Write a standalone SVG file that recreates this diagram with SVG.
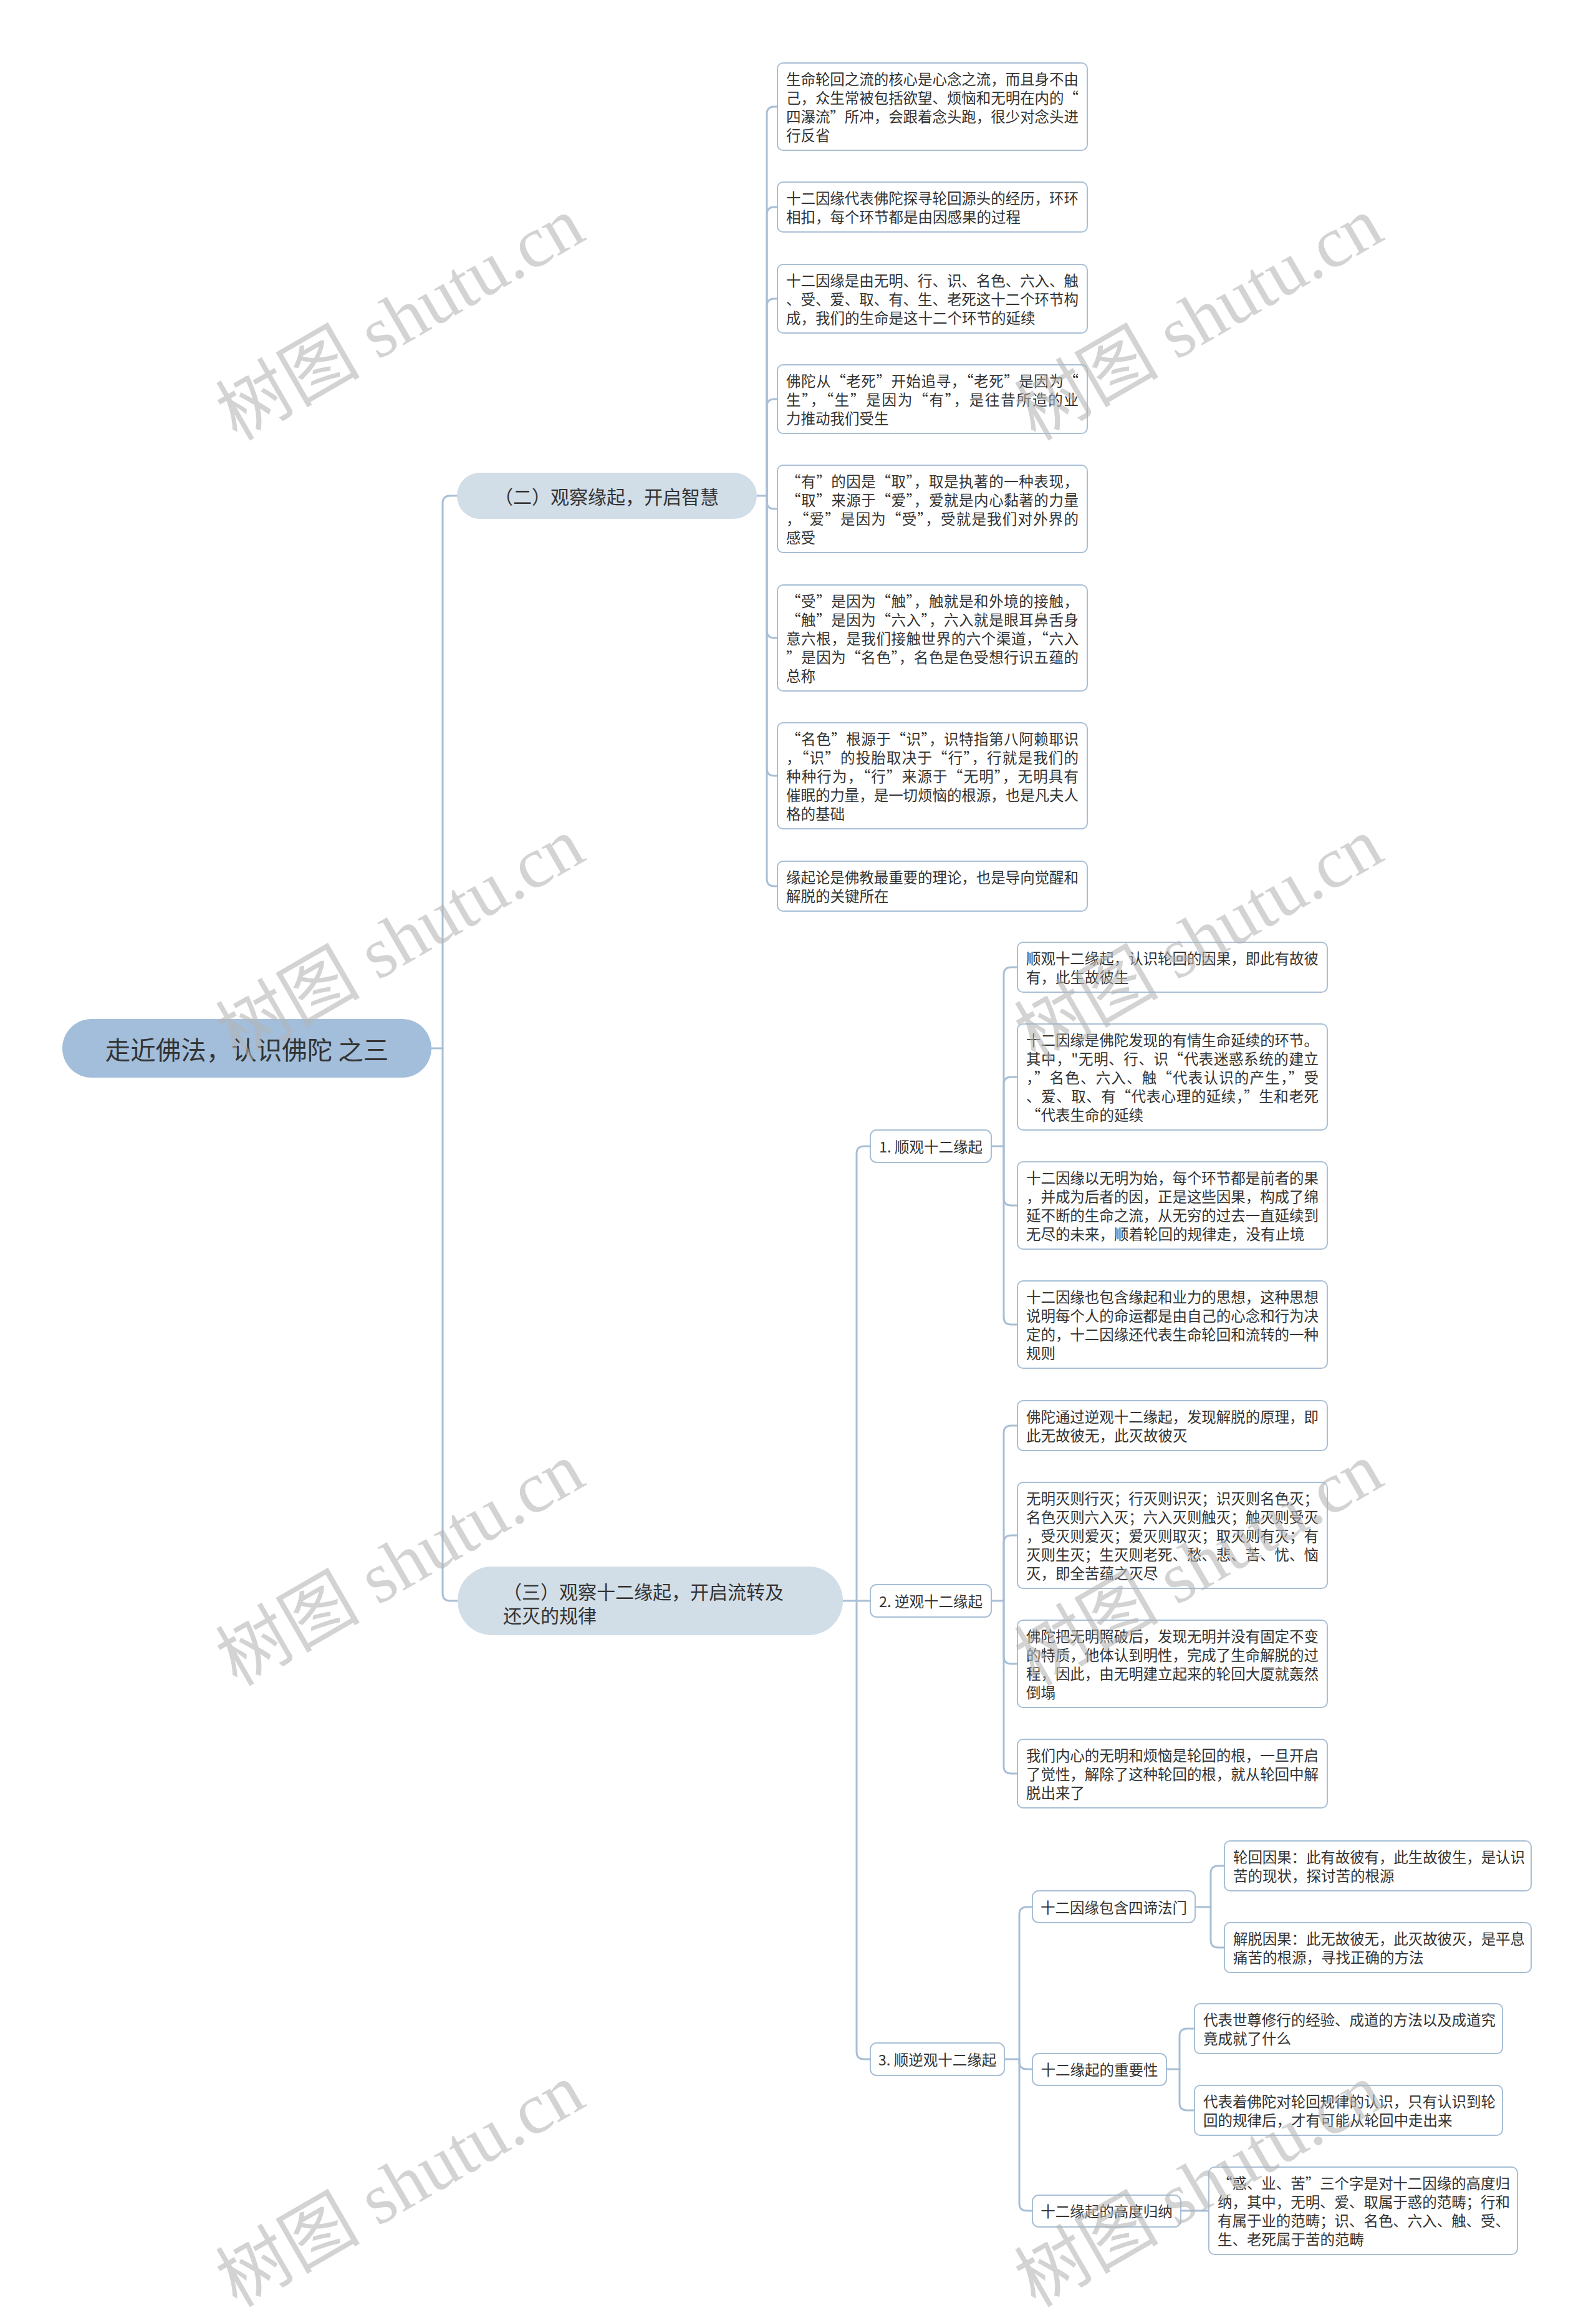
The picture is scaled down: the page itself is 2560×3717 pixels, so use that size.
<svg xmlns="http://www.w3.org/2000/svg" width="2560" height="3717" viewBox="0 0 2560 3717">
<style>
.bg{fill:#ffffff}
.conn path{fill:none;stroke:#a8bfd5;stroke-width:3;stroke-linecap:round}
.leaf rect,.mid rect{fill:#ffffff;stroke:#a8bfd5;stroke-width:2}
.root rect{fill:#a2bedb}
.br rect{fill:#d1dde7}
text{font-family:"Noto Sans CJK SC","Noto Sans",sans-serif;fill:#333333;dominant-baseline:central}
.t{font-size:23.5px}
.rt{font-size:40.5px}
.bt{font-size:30px}
.wm text{font-family:"Liberation Serif","Noto Sans CJK SC",serif;font-size:116px;fill:#b4b4b4;fill-opacity:0.58;dominant-baseline:auto}
</style>
<rect class="bg" x="0" y="0" width="2560" height="3717"/>

<g class="conn" id="connectors">
<path d="M692,1681 H710"/>
<path d="M710,1681 V807 Q710,795 722,795 H733"/>
<path d="M710,1681 V2555 Q710,2567 722,2567 H734"/>
<path d="M1214,795 H1230"/>
<path d="M1230,795 V183 Q1230,171 1242,171 H1247"/>
<path d="M1230,795 V344 Q1230,332 1242,332 H1247"/>
<path d="M1230,795 V491 Q1230,479 1242,479 H1247"/>
<path d="M1230,795 V652 Q1230,640 1242,640 H1247"/>
<path d="M1230,795 V804 Q1230,816 1242,816 H1247"/>
<path d="M1230,795 V1011 Q1230,1023 1242,1023 H1247"/>
<path d="M1230,795 V1232 Q1230,1244 1242,1244 H1247"/>
<path d="M1230,795 V1409 Q1230,1421 1242,1421 H1247"/>
<path d="M1352,2567 H1396"/>
<path d="M1374,2567 V1850 Q1374,1838 1386,1838 H1396"/>
<path d="M1374,2567 V3290 Q1374,3302 1386,3302 H1396"/>
<path d="M1590,1838 H1610"/>
<path d="M1610,1838 V1563 Q1610,1551 1622,1551 H1632"/>
<path d="M1610,1838 V1739 Q1610,1727 1622,1727 H1632"/>
<path d="M1610,1838 V1921 Q1610,1933 1622,1933 H1632"/>
<path d="M1610,1838 V2112 Q1610,2124 1622,2124 H1632"/>
<path d="M1590,2567 H1610"/>
<path d="M1610,2567 V2298 Q1610,2286 1622,2286 H1632"/>
<path d="M1610,2567 V2474 Q1610,2462 1622,2462 H1632"/>
<path d="M1610,2567 V2656 Q1610,2668 1622,2668 H1632"/>
<path d="M1610,2567 V2832 Q1610,2844 1622,2844 H1632"/>
<path d="M1611,3302 H1635"/>
<path d="M1635,3302 V3070 Q1635,3058 1647,3058 H1656"/>
<path d="M1635,3302 V3306 Q1635,3318 1647,3318 H1656"/>
<path d="M1635,3302 V3533 Q1635,3545 1647,3545 H1656"/>
<path d="M1917,3058 H1942"/>
<path d="M1942,3058 V3004 Q1942,2992 1954,2992 H1964"/>
<path d="M1942,3058 V3111 Q1942,3123 1954,3123 H1964"/>
<path d="M1871,3318 H1892"/>
<path d="M1892,3318 V3265 Q1892,3253 1904,3253 H1916"/>
<path d="M1892,3318 V3372 Q1892,3384 1904,3384 H1916"/>
<path d="M1894,3545 H1939"/>
</g>

<g class="root" id="root">
<rect x="100" y="1634" width="592" height="94" rx="47"/>
<text class="rt" x="396" y="1681" text-anchor="middle">走近佛法，认识佛陀 之三</text>
</g>

<g class="br" id="branch-2">
<rect x="733" y="758" width="481" height="74" rx="37"/>
<text class="bt" x="973" y="795" text-anchor="middle">（二）观察缘起，开启智慧</text>
</g>

<g class="br" id="branch-3">
<rect x="734" y="2512" width="618" height="110" rx="55"/>
<text class="bt" x="807" y="2551">（三）观察十二缘起，开启流转及</text>
<text class="bt" x="807" y="2589">还灭的规律</text>
</g>

<g class="leaf" id="b2-leaf1">
<rect x="1247" y="101" width="497" height="140" rx="9"/>
<text class="t" x="1261" y="126" textLength="469" lengthAdjust="spacing">生命轮回之流的核心是心念之流，而且身不由</text>
<text class="t" x="1261" y="156" textLength="469" lengthAdjust="spacing">己，众生常被包括欲望、烦恼和无明在内的“</text>
<text class="t" x="1261" y="186" textLength="469" lengthAdjust="spacing">四瀑流”所冲，会跟着念头跑，很少对念头进</text>
<text class="t" x="1261" y="216">行反省</text>
</g>
<g class="leaf" id="b2-leaf2">
<rect x="1247" y="292" width="497" height="80" rx="9"/>
<text class="t" x="1261" y="317" textLength="469" lengthAdjust="spacing">十二因缘代表佛陀探寻轮回源头的经历，环环</text>
<text class="t" x="1261" y="347">相扣，每个环节都是由因感果的过程</text>
</g>
<g class="leaf" id="b2-leaf3">
<rect x="1247" y="424" width="497" height="110" rx="9"/>
<text class="t" x="1261" y="449" textLength="469" lengthAdjust="spacing">十二因缘是由无明、行、识、名色、六入、触</text>
<text class="t" x="1261" y="479" textLength="469" lengthAdjust="spacing">、受、爱、取、有、生、老死这十二个环节构</text>
<text class="t" x="1261" y="509">成，我们的生命是这十二个环节的延续</text>
</g>
<g class="leaf" id="b2-leaf4">
<rect x="1247" y="585" width="497" height="110" rx="9"/>
<text class="t" x="1261" y="610" textLength="469" lengthAdjust="spacing">佛陀从“老死”开始追寻，“老死”是因为“</text>
<text class="t" x="1261" y="640" textLength="469" lengthAdjust="spacing">生”，“生”是因为“有”，是往昔所造的业</text>
<text class="t" x="1261" y="670">力推动我们受生</text>
</g>
<g class="leaf" id="b2-leaf5">
<rect x="1247" y="746" width="497" height="140" rx="9"/>
<text class="t" x="1261" y="771" textLength="469" lengthAdjust="spacing">“有”的因是“取”，取是执著的一种表现，</text>
<text class="t" x="1261" y="801" textLength="469" lengthAdjust="spacing">“取”来源于“爱”，爱就是内心黏著的力量</text>
<text class="t" x="1261" y="831" textLength="469" lengthAdjust="spacing">，“爱”是因为“受”，受就是我们对外界的</text>
<text class="t" x="1261" y="861">感受</text>
</g>
<g class="leaf" id="b2-leaf6">
<rect x="1247" y="938" width="497" height="170" rx="9"/>
<text class="t" x="1261" y="963" textLength="469" lengthAdjust="spacing">“受”是因为“触”，触就是和外境的接触，</text>
<text class="t" x="1261" y="993" textLength="469" lengthAdjust="spacing">“触”是因为“六入”，六入就是眼耳鼻舌身</text>
<text class="t" x="1261" y="1023" textLength="469" lengthAdjust="spacing">意六根，是我们接触世界的六个渠道，“六入</text>
<text class="t" x="1261" y="1053" textLength="469" lengthAdjust="spacing">”是因为“名色”，名色是色受想行识五蕴的</text>
<text class="t" x="1261" y="1083">总称</text>
</g>
<g class="leaf" id="b2-leaf7">
<rect x="1247" y="1159" width="497" height="170" rx="9"/>
<text class="t" x="1261" y="1184" textLength="469" lengthAdjust="spacing">“名色”根源于“识”，识特指第八阿赖耶识</text>
<text class="t" x="1261" y="1214" textLength="469" lengthAdjust="spacing">，“识”的投胎取决于“行”，行就是我们的</text>
<text class="t" x="1261" y="1244" textLength="469" lengthAdjust="spacing">种种行为，“行”来源于“无明”，无明具有</text>
<text class="t" x="1261" y="1274" textLength="469" lengthAdjust="spacing">催眠的力量，是一切烦恼的根源，也是凡夫人</text>
<text class="t" x="1261" y="1304">格的基础</text>
</g>
<g class="leaf" id="b2-leaf8">
<rect x="1247" y="1381" width="497" height="80" rx="9"/>
<text class="t" x="1261" y="1406" textLength="469" lengthAdjust="spacing">缘起论是佛教最重要的理论，也是导向觉醒和</text>
<text class="t" x="1261" y="1436">解脱的关键所在</text>
</g>

<g class="mid" id="s1">
<rect x="1396" y="1812" width="194" height="52" rx="10"/>
<text class="t" x="1493" y="1838" text-anchor="middle">1. 顺观十二缘起</text>
</g>
<g class="mid" id="s2">
<rect x="1396" y="2541" width="194" height="52" rx="10"/>
<text class="t" x="1493" y="2567" text-anchor="middle">2. 逆观十二缘起</text>
</g>
<g class="mid" id="s3">
<rect x="1396" y="3276" width="215" height="52" rx="10"/>
<text class="t" x="1503.5" y="3302" text-anchor="middle">3. 顺逆观十二缘起</text>
</g>

<g class="leaf" id="s1-leaf1">
<rect x="1632" y="1511" width="497" height="80" rx="9"/>
<text class="t" x="1646" y="1536" textLength="469" lengthAdjust="spacing">顺观十二缘起，认识轮回的因果，即此有故彼</text>
<text class="t" x="1646" y="1566">有，此生故彼生</text>
</g>
<g class="leaf" id="s1-leaf2">
<rect x="1632" y="1642" width="497" height="170" rx="9"/>
<text class="t" x="1646" y="1667" textLength="469" lengthAdjust="spacing">十二因缘是佛陀发现的有情生命延续的环节。</text>
<text class="t" x="1646" y="1697" textLength="469" lengthAdjust="spacing">其中，"无明、行、识“代表迷惑系统的建立</text>
<text class="t" x="1646" y="1727" textLength="469" lengthAdjust="spacing">，”名色、六入、触“代表认识的产生，”受</text>
<text class="t" x="1646" y="1757" textLength="469" lengthAdjust="spacing">、爱、取、有“代表心理的延续，”生和老死</text>
<text class="t" x="1646" y="1787">“代表生命的延续</text>
</g>
<g class="leaf" id="s1-leaf3">
<rect x="1632" y="1863" width="497" height="140" rx="9"/>
<text class="t" x="1646" y="1888" textLength="469" lengthAdjust="spacing">十二因缘以无明为始，每个环节都是前者的果</text>
<text class="t" x="1646" y="1918" textLength="469" lengthAdjust="spacing">，并成为后者的因，正是这些因果，构成了绵</text>
<text class="t" x="1646" y="1948" textLength="469" lengthAdjust="spacing">延不断的生命之流，从无穷的过去一直延续到</text>
<text class="t" x="1646" y="1978">无尽的未来，顺着轮回的规律走，没有止境</text>
</g>
<g class="leaf" id="s1-leaf4">
<rect x="1632" y="2054" width="497" height="140" rx="9"/>
<text class="t" x="1646" y="2079" textLength="469" lengthAdjust="spacing">十二因缘也包含缘起和业力的思想，这种思想</text>
<text class="t" x="1646" y="2109" textLength="469" lengthAdjust="spacing">说明每个人的命运都是由自己的心念和行为决</text>
<text class="t" x="1646" y="2139" textLength="469" lengthAdjust="spacing">定的，十二因缘还代表生命轮回和流转的一种</text>
<text class="t" x="1646" y="2169">规则</text>
</g>

<g class="leaf" id="s2-leaf1">
<rect x="1632" y="2246" width="497" height="80" rx="9"/>
<text class="t" x="1646" y="2271" textLength="469" lengthAdjust="spacing">佛陀通过逆观十二缘起，发现解脱的原理，即</text>
<text class="t" x="1646" y="2301">此无故彼无，此灭故彼灭</text>
</g>
<g class="leaf" id="s2-leaf2">
<rect x="1632" y="2377" width="497" height="170" rx="9"/>
<text class="t" x="1646" y="2402" textLength="469" lengthAdjust="spacing">无明灭则行灭；行灭则识灭；识灭则名色灭；</text>
<text class="t" x="1646" y="2432" textLength="469" lengthAdjust="spacing">名色灭则六入灭；六入灭则触灭；触灭则受灭</text>
<text class="t" x="1646" y="2462" textLength="469" lengthAdjust="spacing">，受灭则爱灭；爱灭则取灭；取灭则有灭；有</text>
<text class="t" x="1646" y="2492" textLength="469" lengthAdjust="spacing">灭则生灭；生灭则老死、愁、悲、苦、忧、恼</text>
<text class="t" x="1646" y="2522">灭，即全苦蕴之灭尽</text>
</g>
<g class="leaf" id="s2-leaf3">
<rect x="1632" y="2598" width="497" height="140" rx="9"/>
<text class="t" x="1646" y="2623" textLength="469" lengthAdjust="spacing">佛陀把无明照破后，发现无明并没有固定不变</text>
<text class="t" x="1646" y="2653" textLength="469" lengthAdjust="spacing">的特质，他体认到明性，完成了生命解脱的过</text>
<text class="t" x="1646" y="2683" textLength="469" lengthAdjust="spacing">程，因此，由无明建立起来的轮回大厦就轰然</text>
<text class="t" x="1646" y="2713">倒塌</text>
</g>
<g class="leaf" id="s2-leaf4">
<rect x="1632" y="2789" width="497" height="110" rx="9"/>
<text class="t" x="1646" y="2814" textLength="469" lengthAdjust="spacing">我们内心的无明和烦恼是轮回的根，一旦开启</text>
<text class="t" x="1646" y="2844" textLength="469" lengthAdjust="spacing">了觉性，解除了这种轮回的根，就从轮回中解</text>
<text class="t" x="1646" y="2874">脱出来了</text>
</g>

<g class="mid" id="s3-a">
<rect x="1656" y="3032" width="261" height="51" rx="10"/>
<text class="t" x="1786.5" y="3058" text-anchor="middle">十二因缘包含四谛法门</text>
</g>
<g class="mid" id="s3-b">
<rect x="1656" y="3293" width="215" height="51" rx="10"/>
<text class="t" x="1763.5" y="3318" text-anchor="middle">十二缘起的重要性</text>
</g>
<g class="mid" id="s3-c">
<rect x="1656" y="3520" width="238" height="51" rx="10"/>
<text class="t" x="1775" y="3545" text-anchor="middle">十二缘起的高度归纳</text>
</g>

<g class="leaf" id="s3-a-leaf1">
<rect x="1964" y="2952" width="492" height="80" rx="9"/>
<text class="t" x="1978" y="2977" textLength="468" lengthAdjust="spacing">轮回因果：此有故彼有，此生故彼生，是认识</text>
<text class="t" x="1978" y="3007">苦的现状，探讨苦的根源</text>
</g>
<g class="leaf" id="s3-a-leaf2">
<rect x="1964" y="3083" width="492" height="80" rx="9"/>
<text class="t" x="1978" y="3108" textLength="468" lengthAdjust="spacing">解脱因果：此无故彼无，此灭故彼灭，是平息</text>
<text class="t" x="1978" y="3138">痛苦的根源，寻找正确的方法</text>
</g>
<g class="leaf" id="s3-b-leaf1">
<rect x="1916" y="3213" width="494" height="80" rx="9"/>
<text class="t" x="1930" y="3238" textLength="469" lengthAdjust="spacing">代表世尊修行的经验、成道的方法以及成道究</text>
<text class="t" x="1930" y="3268">竟成就了什么</text>
</g>
<g class="leaf" id="s3-b-leaf2">
<rect x="1916" y="3344" width="494" height="80" rx="9"/>
<text class="t" x="1930" y="3369" textLength="469" lengthAdjust="spacing">代表着佛陀对轮回规律的认识，只有认识到轮</text>
<text class="t" x="1930" y="3399">回的规律后，才有可能从轮回中走出来</text>
</g>
<g class="leaf" id="s3-c-leaf1">
<rect x="1939" y="3475" width="495" height="140" rx="9"/>
<text class="t" x="1953" y="3500" textLength="469" lengthAdjust="spacing">“惑、业、苦”三个字是对十二因缘的高度归</text>
<text class="t" x="1953" y="3530" textLength="469" lengthAdjust="spacing">纳，其中，无明、爱、取属于惑的范畴；行和</text>
<text class="t" x="1953" y="3560" textLength="469" lengthAdjust="spacing">有属于业的范畴；识、名色、六入、触、受、</text>
<text class="t" x="1953" y="3590">生、老死属于苦的范畴</text>
</g>

<g class="wm" id="watermarks">
<text x="644" y="550" text-anchor="middle" transform="rotate(-30 644 515)">树图 shutu.cn</text>
<text x="1925" y="550" text-anchor="middle" transform="rotate(-30 1925 515)">树图 shutu.cn</text>
<text x="644" y="1545" text-anchor="middle" transform="rotate(-30 644 1510)">树图 shutu.cn</text>
<text x="1925" y="1545" text-anchor="middle" transform="rotate(-30 1925 1510)">树图 shutu.cn</text>
<text x="644" y="2547" text-anchor="middle" transform="rotate(-30 644 2512)">树图 shutu.cn</text>
<text x="1925" y="2547" text-anchor="middle" transform="rotate(-30 1925 2512)">树图 shutu.cn</text>
<text x="644" y="3543" text-anchor="middle" transform="rotate(-30 644 3508)">树图 shutu.cn</text>
<text x="1925" y="3543" text-anchor="middle" transform="rotate(-30 1925 3508)">树图 shutu.cn</text>
</g>
</svg>
